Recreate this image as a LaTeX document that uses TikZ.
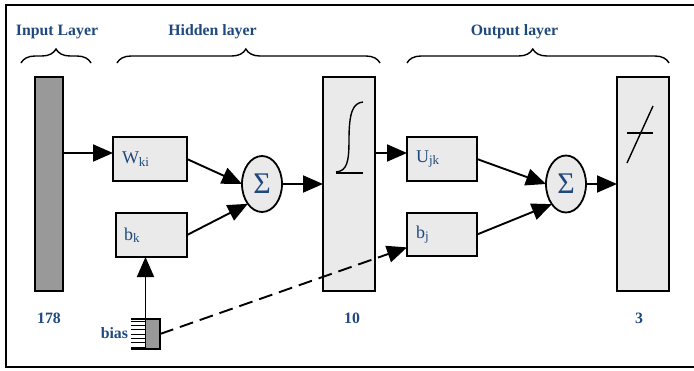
\documentclass[tikz,border=0pt]{standalone}
\usepackage{fontspec}
\setmainfont{Liberation Serif}
\usetikzlibrary{arrows.meta,shapes.geometric,decorations.pathreplacing,calc}
\definecolor{labblue}{RGB}{31,73,125}
\definecolor{boxfill}{RGB}{234,234,234}
\definecolor{barfill}{RGB}{153,153,153}
\newcommand{\subtxt}[1]{\raisebox{-0.3ex}{\fontsize{13}{13}\selectfont #1}}
\tikzset{
  every node/.style={inner sep=0pt, outer sep=0pt},
  layerbar/.style={draw=black, line width=1.8pt, fill=boxfill, rectangle},
  wbox/.style={draw=black, line width=1.8pt, fill=boxfill, rectangle,
    text=labblue, font=\fontsize{18}{20}\selectfont},
  sumnode/.style={draw=black, line width=1.8pt, fill=boxfill, ellipse,
    minimum width=40pt, minimum height=56pt, text=labblue,
    font=\fontsize{30}{30}\selectfont},
  lbl/.style={text=labblue, font=\fontsize{15.8}{18}\selectfont\bfseries},
  arr/.style={line width=1.9pt, -{Triangle[length=20pt,width=17pt]}},
  layerbrace/.style={line width=1.4pt, decorate,
    decoration={brace, amplitude=14pt}},
}
\begin{document}
\begin{tikzpicture}[x=1pt, y=-1pt]
\useasboundingbox (0,0) rectangle (694,370);
% outer frame (open to the right)
\draw[line width=2.2pt] (696,5) -- (6,5) -- (6,367) -- (696,367);

% layer titles and braces
\node[lbl] (tin) at (57,32) {Input Layer};
\node[lbl] (thid) at (212.5,32) {Hidden layer};
\node[lbl] (tout) at (514.5,32) {Output layer};
\draw[layerbrace] (21,63) -- (91,63);
\draw[layerbrace, decoration={aspect=0.49}] (117,63) -- (380,63);
\draw[layerbrace, decoration={aspect=0.48}] (407,63) -- (669,63);

% layer bars
\node[layerbar, fill=barfill, minimum width=28pt, minimum height=214pt] (inbar) at (49,184) {};
\node[layerbar, minimum width=52pt, minimum height=214pt] (sigbox) at (349,184) {};
\node[layerbar, minimum width=52pt, minimum height=214pt] (outbox) at (643,184) {};

% sigmoid symbol
\draw[line width=1.4pt] (336,172) .. controls (347,171) and (349,162) .. (349,140)
  .. controls (349,112) and (353,103) .. (363,102);
\draw[line width=1.4pt] (336,173) -- (363,173);
% linear symbol
\draw[line width=1.4pt] (627,163) -- (653,106);
\draw[line width=1.4pt] (627,133) -- (653,133);

% weight and bias boxes
\node[wbox, minimum width=74pt, minimum height=44pt, text width=56pt, align=left] (wki) at (150,159) {W\subtxt{ki}};
\node[wbox, minimum width=71pt, minimum height=44pt, text width=55pt, align=left] (bk) at (151.5,235) {b\subtxt{k}};
\node[wbox, minimum width=70pt, minimum height=44pt, text width=52pt, align=left] (ujk) at (442,159) {U\subtxt{jk}};
\node[wbox, minimum width=70pt, minimum height=43pt, text width=52pt, align=left] (bj) at (442,234.5) {b\subtxt{j}};

% summation nodes
\node[sumnode] (sum1) at (262,184) {Σ};
\node[sumnode, minimum height=57pt] (sum2) at (566,184) {Σ};

% bias source
\node[minimum width=29pt, minimum height=30pt] (bias) at (145.5,334) {};
\foreach \k in {0,...,6}
  \draw[line width=0.6pt] ($(bias.north west)+(0,2+4.3*\k)$) -- ($(bias.north)+(0,2+4.3*\k)$);
\fill[barfill] (bias.north) rectangle (bias.south east);
\draw[line width=1.8pt] (bias.north west) -- (bias.north east) -- (bias.south east) -- (bias.south west);
\draw[line width=0.8pt] (bias.north) -- (bias.south);
\node[lbl, anchor=east] (biaslbl) at (128,333) {bias};

% layer sizes
\node[lbl] (n178) at (49,318) {178};
\node[lbl] (n10) at (352,318) {10};
\node[lbl] (n3) at (639,318) {3};

% connections
\draw[arr] (inbar.east |- 0,153) -- (wki.west |- 0,153);
\draw[arr] (wki.east) -- (sum1.west);
\draw[arr] (bk.east) -- (sum1.south west);
\draw[arr] (sum1.east) -- (sigbox.west |- sum1.east);
\draw[arr] (sigbox.east |- 0,153) -- (ujk.west |- 0,153);
\draw[arr] (ujk.east) -- (sum2.west);
\draw[arr] (bj.east) -- (sum2.south west);
\draw[arr] (sum2.east) -- (outbox.west |- sum2.east);
\draw[arr] (bias.north) -- (bias.north |- bk.south);
\draw[arr, dash pattern=on 14pt off 7pt] (bias.east) -- ($(bj.west)!0.6!(bj.south west)$);
\end{tikzpicture}
\end{document}
